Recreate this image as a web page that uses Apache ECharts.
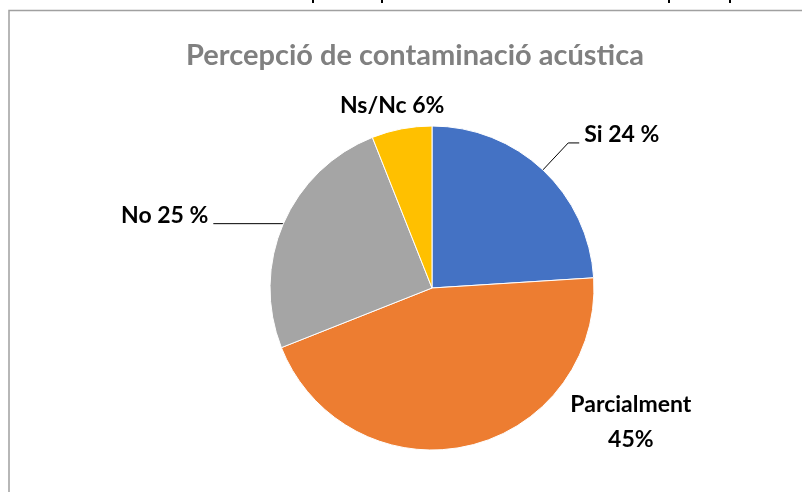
<!DOCTYPE html>
<html>
<head>
<meta charset="utf-8">
<script src="https://cdn.jsdelivr.net/npm/echarts@6/dist/echarts.min.js"></script>
<style>
  html, body { margin: 0; padding: 0; background: #ffffff; }
  #chart { width: 802px; height: 492px; }
</style>
</head>
<body>
<div id="chart"></div>
<script>
// Survey answers and their shares (%)
const categories = ['Si', 'Parcialment', 'No', 'Ns/Nc'];
const shares = [24, 45, 25, 6];
const labelTexts = ['Si 24 %', '{c|Parcialment}\n{c|45%}', 'No 25 %', 'Ns/Nc 6%'];
const sliceColors = ['#4472C4', '#ED7D31', '#A5A5A5', '#FFC000'];

const FONT = 'Lato, "Open Sans", sans-serif';
const LABEL_SIZE = 23;

// Per-slice leader line settings
const lineLength = [37, 0, 0, 24];
const lineLength2 = [11, 98, 70, 0];
const showLine = [true, false, true, false];
const labelPadding = [[0, 0, 16, 0], [0, 0, 48, 0], [0, 0, 16, 0], [0, 0, 0, 0]];

const chart = echarts.init(document.getElementById('chart'), null, { renderer: 'canvas' });

const data = categories.map((name, i) => ({
  name: name,
  value: shares[i],
  itemStyle: { color: sliceColors[i] },
  label: { formatter: labelTexts[i], padding: labelPadding[i] },
  labelLine: { show: showLine[i], length: lineLength[i], length2: lineLength2[i] }
}));

chart.setOption({
  animation: false,
  backgroundColor: '#ffffff',
  title: {
    text: 'Percepció de contaminació acústica',
    left: 410,
    textAlign: 'center',
    top: 36,
    textStyle: { color: '#808080', fontFamily: FONT, fontWeight: 'bold', fontSize: 29 }
  },
  graphic: [
    // chart frame
    { type: 'polyline', shape: { points: [[9, 492], [9, 10.5], [802, 10.5]] },
      style: { stroke: '#a0a0a0', lineWidth: 1.5, fill: null }, silent: true },
    // descenders of the text line above the frame
    { type: 'rect', shape: { x: 312, y: 0, width: 2, height: 3 }, style: { fill: '#000' } },
    { type: 'rect', shape: { x: 381, y: 0, width: 2, height: 3 }, style: { fill: '#000' } },
    { type: 'rect', shape: { x: 668, y: 0, width: 2, height: 3 }, style: { fill: '#000' } },
    { type: 'rect', shape: { x: 729, y: 0, width: 2, height: 3 }, style: { fill: '#000' } }
  ],
  series: [{
    type: 'pie',
    center: [432, 288],
    radius: 162,
    startAngle: 90,
    clockwise: true,
    avoidLabelOverlap: false,
    itemStyle: { borderColor: '#ffffff', borderWidth: 1 },
    label: {
      show: true,
      position: 'outside',
      color: '#000000',
      fontFamily: FONT,
      fontWeight: 'bold',
      fontSize: LABEL_SIZE,
      distanceToLabelLine: 5,
      rich: {
        c: { align: 'center', fontFamily: FONT, fontWeight: 'bold', fontSize: LABEL_SIZE, color: '#000000', lineHeight: 35 }
      }
    },
    labelLine: { lineStyle: { color: '#000000', width: 1 } },
    labelLayout: function (params) {
      if (params.dataIndex === 3) {
        return { align: 'center' };
      }
      return {};
    },
    emphasis: { disabled: true },
    data: data
  }]
});
</script>
</body>
</html>
